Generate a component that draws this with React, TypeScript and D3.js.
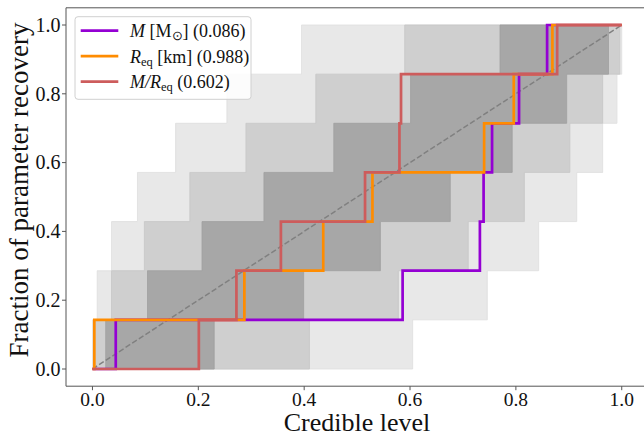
import * as d3 from "d3";

// y levels of a 7-event P-P plot
const fractions = [0, 0.142857, 0.285714, 0.428571, 0.571429, 0.714286, 0.857143, 1];

// credible levels of each parameter (sorted)
const massLevels = [0.044, 0.586, 0.732, 0.739, 0.755, 0.806, 0.859];
const radiusLevels = [0.0035, 0.287, 0.436, 0.529, 0.74, 0.796, 0.869];
const compactLevels = [0.201, 0.272, 0.356, 0.515, 0.58, 0.583, 0.878];

// confidence bands: x-extent of each row (row k spans fractions[k]..fractions[k+1])
const band997Start = [0.0002, 0.009, 0.036, 0.085, 0.157, 0.254, 0.395];
const band997End = [0.605, 0.746, 0.843, 0.915, 0.964, 0.991, 1.0];
const band95Start = [0.0036, 0.036, 0.098, 0.184, 0.29, 0.422, 0.59];
const band95End = [0.41, 0.578, 0.71, 0.816, 0.902, 0.964, 0.9964];
const band68Start = [0.025, 0.104, 0.207, 0.324, 0.456, 0.601, 0.77];
const band68End = [0.23, 0.399, 0.544, 0.676, 0.793, 0.896, 0.975];

const ticks = [0, 0.2, 0.4, 0.6, 0.8, 1.0];
const tickLabels = ["0.0", "0.2", "0.4", "0.6", "0.8", "1.0"];

const series = [
  { name: "mass", levels: massLevels, color: "#9400d3", pvalue: "0.086" },
  { name: "radius", levels: radiusLevels, color: "#ff8c00", pvalue: "0.988" },
  { name: "compact", levels: compactLevels, color: "#cd5c5c", pvalue: "0.602" },
];

const bands = [
  { start: band997Start, end: band997End, fill: "#e8e8e8", edge: "#dedede" },
  { start: band95Start, end: band95End, fill: "#cfcfcf", edge: "#c6c6c6" },
  { start: band68Start, end: band68End, fill: "#a7a7a7", edge: "#a0a0a0" },
];

const width = 644;
const height = 437;
const font = "'Liberation Serif', 'Times New Roman', serif";

export default function App() {
  const x = d3.scaleLinear().domain([-0.05, 1.05]).range([66, 648.2]);
  const y = d3.scaleLinear().domain([-0.05, 1.05]).range([386.2, 7.8]);

  const bandLine = d3
    .line<[number, number]>()
    .x((d) => x(d[0]))
    .y((d) => y(d[1]));

  const bandPath = (start: number[], end: number[]) => {
    const pts: [number, number][] = [];
    start.forEach((s, k) => {
      pts.push([s, fractions[k]]);
      pts.push([s, fractions[k + 1]]);
    });
    for (let k = end.length - 1; k >= 0; k--) {
      pts.push([end[k], fractions[k + 1]]);
      pts.push([end[k], fractions[k]]);
    }
    return bandLine(pts) + "Z";
  };

  const stepLine = d3
    .line<[number, number]>()
    .x((d) => x(d[0]))
    .y((d) => y(d[1]))
    .curve(d3.curveStepAfter);

  const seriesPath = (levels: number[]) => {
    const pts: [number, number][] = [[0, 0]];
    levels.forEach((c, i) => pts.push([c, fractions[i + 1]]));
    pts.push([1, 1]);
    return stepLine(pts) || "";
  };

  const legendX = 75;
  const legendY = 16.7;
  const rowGap = 25.5;

  return (
    <svg
      width={width}
      height={height}
      style={{ position: "absolute", left: 0, top: 0, background: "#fff" }}
      fontFamily={font}
    >
      {bands.map((b, i) => (
        <path
          key={i}
          d={bandPath(b.start, b.end)}
          fill={b.fill}
          stroke={b.edge}
          strokeWidth={0.8}
        />
      ))}

      <line
        x1={x(0)}
        y1={y(0)}
        x2={x(1)}
        y2={y(1)}
        stroke="#808080"
        strokeWidth={1.5}
        strokeDasharray="5.5,2.4"
      />

      {series.map((s) => (
        <path
          key={s.name}
          d={seriesPath(s.levels)}
          fill="none"
          stroke={s.color}
          strokeWidth={2.7}
        />
      ))}

      {/* spines */}
      <line x1={x(-0.05)} y1={y(1.05)} x2={x(1.05)} y2={y(1.05)} stroke="#555" strokeWidth={1} />
      <line x1={x(-0.05)} y1={y(-0.05)} x2={x(1.05)} y2={y(-0.05)} stroke="#555" strokeWidth={1} />
      <line x1={x(-0.05)} y1={y(-0.05)} x2={x(-0.05)} y2={y(1.05)} stroke="#555" strokeWidth={1} />

      {ticks.map((t, i) => (
        <g key={"x" + t}>
          <line x1={x(t)} x2={x(t)} y1={y(-0.05)} y2={y(-0.05) + 4} stroke="#555" />
          <text x={x(t)} y={405.5} textAnchor="middle" fontSize={19.5} fill="#111">
            {tickLabels[i]}
          </text>
        </g>
      ))}
      {ticks.map((t, i) => (
        <g key={"y" + t}>
          <line x1={x(-0.05) - 4} x2={x(-0.05)} y1={y(t)} y2={y(t)} stroke="#555" />
          <text x={60.5} y={y(t)} dy="0.34em" textAnchor="end" fontSize={20} fill="#111">
            {tickLabels[i]}
          </text>
        </g>
      ))}

      <text x={357} y={431.3} textAnchor="middle" fontSize={26} fill="#111">
        Credible level
      </text>
      <text
        transform="translate(27.5,190) rotate(-90)"
        textAnchor="middle"
        fontSize={27}
        fill="#111"
      >
        Fraction of parameter recovery
      </text>

      {/* legend */}
      <rect
        x={legendX}
        y={legendY}
        width={176}
        height={82.6}
        rx={3}
        fill="rgba(255,255,255,0.85)"
        stroke="#d0d0d0"
        strokeWidth={1}
      />
      {series.map((s, i) => {
        const ly = legendY + 14 + i * rowGap;
        return (
          <g key={"leg" + s.name}>
            <line x1={80.7} x2={118.3} y1={ly} y2={ly} stroke={s.color} strokeWidth={2.7} />
            <text x={130} y={ly + 6.3} fontSize={18} fill="#111">
              {i === 0 && (
                <>
                  <tspan fontStyle="italic">M</tspan>
                  <tspan> [M</tspan>
                  <tspan fontSize={12.5} dy={3}>⊙</tspan>
                  <tspan dy={-3}>] ({s.pvalue})</tspan>
                </>
              )}
              {i === 1 && (
                <>
                  <tspan fontStyle="italic">R</tspan>
                  <tspan fontSize={12.5} dy={3}>eq</tspan>
                  <tspan dy={-3}> [km] ({s.pvalue})</tspan>
                </>
              )}
              {i === 2 && (
                <>
                  <tspan fontStyle="italic">M/R</tspan>
                  <tspan fontSize={12.5} dy={3}>eq</tspan>
                  <tspan dy={-3}> ({s.pvalue})</tspan>
                </>
              )}
            </text>
          </g>
        );
      })}
    </svg>
  );
}
